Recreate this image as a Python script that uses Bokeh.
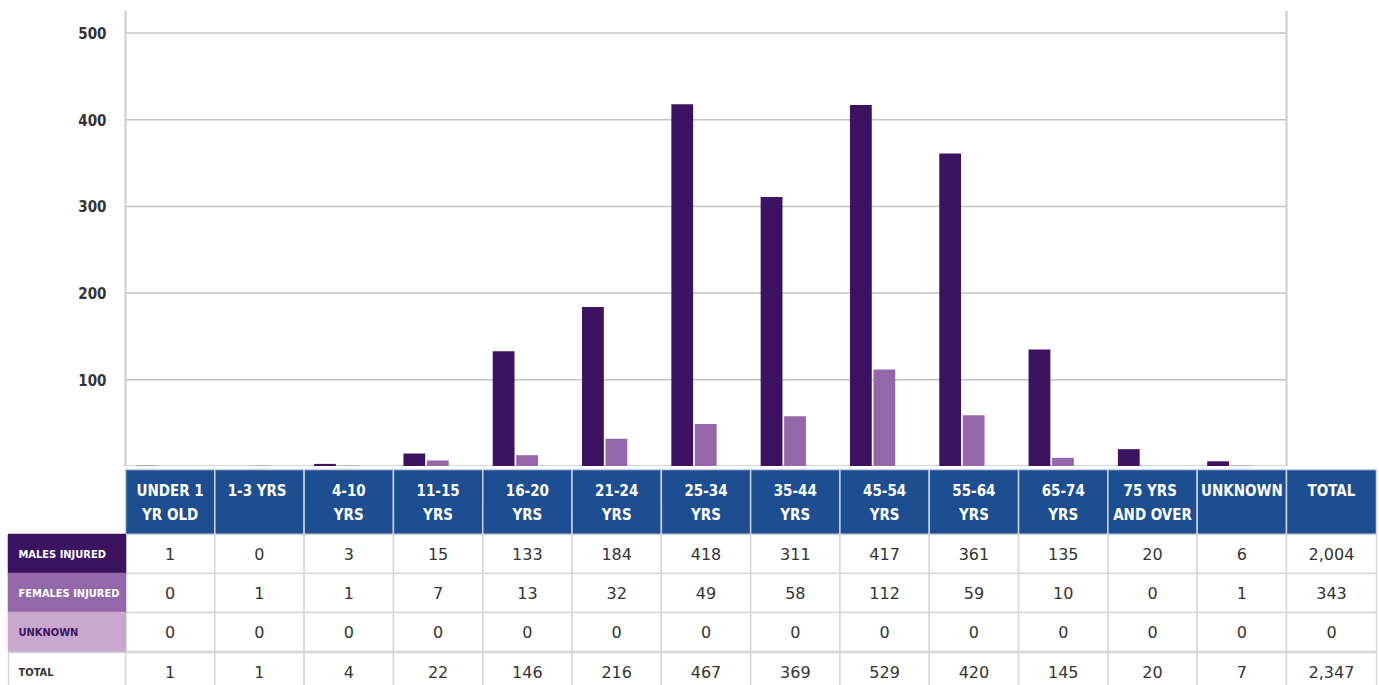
from bokeh.plotting import figure
from bokeh.models import ColumnDataSource, Range1d
from bokeh.transform import dodge
from bokeh.layouts import column
from bokeh.embed import file_html
from bokeh.resources import INLINE
from bokeh.core.properties import value

# ---------------- data ----------------
categories = ["UNDER 1 YR OLD", "1-3 YRS", "4-10 YRS", "11-15 YRS", "16-20 YRS", "21-24 YRS",
              "25-34 YRS", "35-44 YRS", "45-54 YRS", "55-64 YRS", "65-74 YRS",
              "75 YRS AND OVER", "UNKNOWN"]
header_labels = ["UNDER 1\nYR OLD", "1-3  YRS", "4-10\nYRS", "11-15\nYRS", "16-20\nYRS", "21-24\nYRS",
                 "25-34\nYRS", "35-44\nYRS", "45-54\nYRS", "55-64\nYRS", "65-74\nYRS",
                 "75  YRS\nAND OVER", "UNKNOWN", "TOTAL"]
males = [1, 0, 3, 15, 133, 184, 418, 311, 417, 361, 135, 20, 6]
females = [0, 1, 1, 7, 13, 32, 49, 58, 112, 59, 10, 0, 1]
unknown = [0, 0, 0, 0, 0, 0, 0, 0, 0, 0, 0, 0, 0]
row_labels = ["MALES INJURED", "FEMALES INJURED", "UNKNOWN", "TOTAL"]
y_ticks = [100, 200, 300, 400, 500]
y_max = 526

# ---------------- style / layout ----------------
C_MALE = "#3c1361"
C_FEMALE = "#9467aa"
C_UNK = "#c9a7cf"
C_HEAD = "#1d4e91"
NARROW = "DejaVu Sans Condensed, Roboto Condensed, Roboto"
NUMFONT = "DejaVu Sans"

W = 1379
LEFT = 125          # pixel where the category area starts
LABEL_X0 = 8        # pixel where the row-label column starts
FRAME_W = 1161
N = len(categories)
UNIT = FRAME_W / N
X0 = -LEFT / UNIT
X1 = (W - LEFT) / UNIT
TOTAL_RIGHT = N + 90 / UNIT
CHART_H = 466
TOP_PAD = 10
TABLE_H = 685 - CHART_H

# ---------------- chart ----------------
xs = [i + 0.5 for i in range(N)]
src = ColumnDataSource(dict(x=xs, cat=categories, males=males, females=females, unknown=unknown))

p = figure(width=W, height=CHART_H, x_range=Range1d(X0, X1), y_range=Range1d(0, y_max),
           output_backend="svg", toolbar_location=None,
           x_axis_location=None, y_axis_location=None,
           min_border_left=0, min_border_right=0, min_border_top=TOP_PAD, min_border_bottom=0)
p.outline_line_color = None
p.grid.visible = False
p.background_fill_color = "white"
p.border_fill_color = "white"

# gridlines
p.segment(x0=[0] * len(y_ticks), x1=[N] * len(y_ticks), y0=y_ticks, y1=y_ticks,
          line_color="#c4c4c4", line_width=1.5)
# frame lines (left / right / bottom)
p.segment(x0=[0, N], x1=[0, N], y0=[0, 0], y1=[y_max, y_max], line_color="#cccccc", line_width=2)
p.segment(x0=[0], x1=[N], y0=[0], y1=[0], line_color="#b0b0b0", line_width=2)
# y tick labels
p.text(x=[-19 / UNIT] * len(y_ticks), y=y_ticks, text=[str(v) for v in y_ticks],
       text_align="right", text_baseline="middle", text_color="#333333",
       text_font=value(NARROW), text_font_style="bold", text_font_size="15px")

p.vbar(x=dodge("x", -0.266), top="males", width=0.244, source=src,
       fill_color=C_MALE, line_color=None)
p.vbar(x=dodge("x", -0.003), top="females", width=0.244, source=src,
       fill_color=C_FEMALE, line_color=None)
p.vbar(x=dodge("x", 0.26), top="unknown", width=0.244, source=src,
       fill_color=C_UNK, line_color=None)

# ---------------- table ----------------
t = figure(width=W, height=TABLE_H, x_range=Range1d(X0, X1),
           y_range=Range1d(TABLE_H, 0), output_backend="svg", toolbar_location=None,
           x_axis_location=None, y_axis_location=None,
           min_border_left=0, min_border_right=0, min_border_top=0, min_border_bottom=0)
t.outline_line_color = None
t.grid.visible = False
t.background_fill_color = "white"
t.border_fill_color = "white"

ncol = N + 1
col_left = list(range(ncol))
col_right = [i + 1 for i in range(N)] + [TOTAL_RIGHT]
col_center = [(a + b) / 2 for a, b in zip(col_left, col_right)]

HEAD_TOP, HEAD_BOT = 3, 68
ROW_H = 39
row_top = [HEAD_BOT + i * ROW_H for i in range(4)]
row_top[3] += 1
row_bot = [r + ROW_H for r in row_top]
row_mid = [(a + b) / 2 for a, b in zip(row_top, row_bot)]

# header
t.quad(left=col_left, right=col_right, top=[HEAD_TOP] * ncol, bottom=[HEAD_BOT] * ncol,
       fill_color=C_HEAD, line_color="#c9d3e3", line_width=1.5)
t.text(x=col_center, y=[15] * ncol, text=header_labels, text_align="center",
       text_baseline="top", text_color="white", text_font=value(NARROW),
       text_font_style="bold", text_font_size="15px", text_line_height=1.35)

# body cells
totals = [m + f + u for m, f, u in zip(males, females, unknown)]
rows = [males, females, unknown, totals]
cl, cr, ct, cb, tx, ty, tt = [], [], [], [], [], [], []
for r, vals in enumerate(rows):
    full = vals + [sum(vals)]
    for c in range(ncol):
        cl.append(col_left[c]); cr.append(col_right[c])
        ct.append(row_top[r]); cb.append(row_bot[r])
        tx.append(col_center[c]); ty.append(row_mid[r]); tt.append(f"{full[c]:,}")
t.quad(left=cl, right=cr, top=ct, bottom=cb, fill_color="white", line_color="#d6d6d6", line_width=1.5)
t.text(x=tx, y=ty, text=tt, text_align="center", text_baseline="middle", text_color="#333333",
       text_font=value(NUMFONT), text_font_size="16px")

# row label cells
lab_fill = [C_MALE, C_FEMALE, C_UNK, "white"]
lab_line = [C_MALE, C_FEMALE, C_UNK, "#d6d6d6"]
lab_text = ["white", "white", C_MALE, "#333333"]
lx0 = (LABEL_X0 - LEFT) / UNIT
t.quad(left=[lx0] * 4, right=[0] * 4, top=row_top, bottom=row_bot,
       fill_color=lab_fill, line_color=lab_line, line_width=1.5)
t.text(x=[lx0 + 10 / UNIT] * 4, y=row_mid, text=row_labels, text_align="left",
       text_baseline="middle", text_color=lab_text, text_font=value(NARROW),
       text_font_style="bold", text_font_size="11px")

layout = column(p, t, spacing=0)
open("out.html", "w").write(file_html(layout, INLINE))
